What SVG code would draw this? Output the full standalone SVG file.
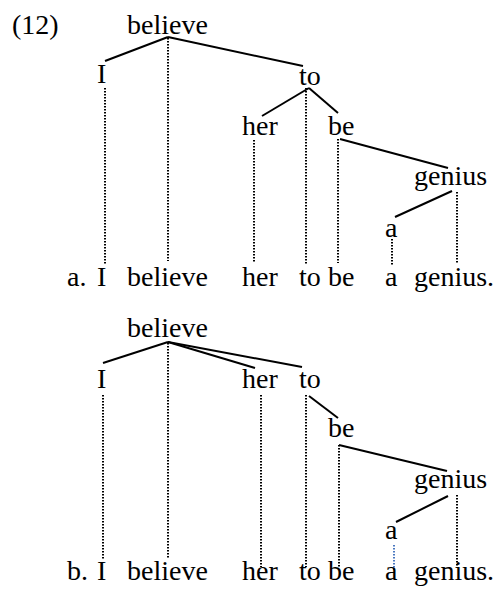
<svg xmlns="http://www.w3.org/2000/svg" width="498" height="594" viewBox="0 0 498 594">
<style>
text{font-family:'Liberation Serif','DejaVu Serif',serif;font-size:28px;fill:#000}
.s{stroke:#000;stroke-width:2;fill:none}
.d{stroke:#000;stroke-width:2;stroke-dasharray:1.5 1.5;fill:none}
.db{stroke:#4a78c0;stroke-width:2;stroke-dasharray:1.5 1.5;fill:none}
</style>
<rect width="498" height="594" fill="#fff"/>
<text x="12" y="34">(12)</text>
<g id="connectors">
<line class="s" x1="168" y1="37" x2="105" y2="61"/>
<line class="s" x1="168" y1="37" x2="303" y2="66"/>
<line class="d" x1="168" y1="38" x2="168" y2="261"/>
<line class="d" x1="105" y1="88" x2="105" y2="265"/>
<line class="s" x1="309" y1="88" x2="262" y2="116"/>
<line class="s" x1="309" y1="88" x2="338" y2="113"/>
<line class="d" x1="306" y1="88" x2="306" y2="264"/>
<line class="d" x1="254" y1="140" x2="254" y2="263"/>
<line class="s" x1="340" y1="139" x2="448" y2="168"/>
<line class="d" x1="338" y1="139" x2="338" y2="263"/>
<line class="s" x1="452" y1="191" x2="395" y2="217"/>
<line class="d" x1="457" y1="192" x2="457" y2="263"/>
<line class="d" x1="392" y1="239" x2="392" y2="265"/>
<line class="s" x1="168" y1="342" x2="103" y2="363"/>
<line class="s" x1="168" y1="342" x2="255" y2="368"/>
<line class="s" x1="168" y1="342" x2="302" y2="367"/>
<line class="d" x1="168" y1="343" x2="168" y2="559"/>
<line class="d" x1="103" y1="395" x2="103" y2="559"/>
<line class="d" x1="261" y1="395" x2="261" y2="567"/>
<line class="d" x1="306" y1="395" x2="306" y2="567"/>
<line class="s" x1="309" y1="396" x2="338" y2="418"/>
<line class="s" x1="339" y1="445" x2="447" y2="471"/>
<line class="d" x1="339" y1="445" x2="339" y2="567"/>
<line class="s" x1="448" y1="496" x2="396" y2="522"/>
<line class="d" x1="457" y1="495" x2="457" y2="567"/>
<line class="db" x1="394" y1="545" x2="394" y2="570"/>
</g>
<g id="a-believe"><text x="127" y="34">believe</text></g>
<g id="a-I"><text x="97" y="83">I</text></g>
<g id="a-to"><text x="299" y="85">to</text></g>
<g id="a-her"><text x="242" y="135">her</text></g>
<g id="a-be"><text x="328" y="135">be</text></g>
<g id="a-genius"><text x="414" y="185">genius</text></g>
<g id="a-a"><text x="385" y="237">a</text></g>
<g id="a-sentence">
<text x="67" y="286">a.</text>
<text x="97" y="286">I</text>
<text x="127" y="286">believe</text>
<text x="242" y="286">her</text>
<text x="299" y="286">to</text>
<text x="328" y="286">be</text>
<text x="385" y="286">a</text>
<text x="414" y="286">genius.</text>
</g>
<g id="b-believe"><text x="127" y="337">believe</text></g>
<g id="b-I"><text x="97" y="388">I</text></g>
<g id="b-her"><text x="242" y="388">her</text></g>
<g id="b-to"><text x="299" y="388">to</text></g>
<g id="b-be"><text x="328" y="437">be</text></g>
<g id="b-genius"><text x="414" y="488">genius</text></g>
<g id="b-a"><text x="385" y="539">a</text></g>
<g id="b-sentence">
<text x="67" y="580">b.</text>
<text x="97" y="580">I</text>
<text x="127" y="580">believe</text>
<text x="242" y="580">her</text>
<text x="299" y="580">to</text>
<text x="328" y="580">be</text>
<text x="385" y="580">a</text>
<text x="414" y="580">genius.</text>
</g>
</svg>
